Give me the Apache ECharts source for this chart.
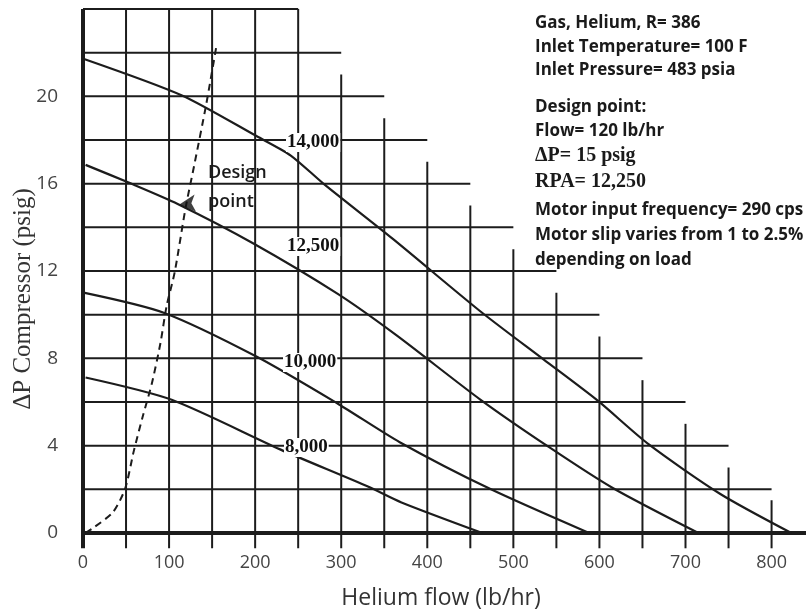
<!DOCTYPE html>
<html><head><meta charset="utf-8">
<script src="https://cdn.jsdelivr.net/npm/echarts@6/dist/echarts.min.js"></script>
<style>html,body{margin:0;padding:0;background:#fff}#c{width:809px;height:616px}</style>
</head><body><div id="c"></div>
<script>
// ---- data ----
const flow14000 = [2, 115, 202, 241, 280, 360, 463, 535, 598, 657, 740, 823];
const dp14000   = [21.7, 20.04, 18.17, 17.3, 15.98, 13.47, 10.11, 7.95, 6.06, 4.07, 1.8, 0];
const flow12500 = [3, 53, 110, 198, 296, 364, 462, 542, 616, 715];
const dp12500   = [16.86, 16.05, 15.07, 13.26, 10.95, 9.06, 6.1, 3.92, 2.05, 0];
const flow10000 = [2, 93, 202, 297, 368, 474, 588];
const dp10000   = [11.0, 10.1, 8.07, 5.9, 4.16, 2.0, 0];
const flow8000  = [3, 103, 229, 331, 370, 464];
const dp8000    = [7.12, 6.1, 3.83, 2.13, 1.4, 0];
const designLineFlow = [3, 12.5, 35, 49, 59, 69, 80, 90, 97, 106.5, 119, 129, 143, 155];
const designLineDP   = [0, 0.25, 0.96, 2.04, 3.75, 5.28, 6.85, 8.7, 10.37, 11.94, 14.85, 16.8, 19.6, 22.3];
const designFlow = [112];
const designDP   = [15.05];
// staircase grid: horizontal lines (dp value -> right end flow), vertical lines (flow -> top dp)
const hGridDP      = [2, 4, 6, 8, 10, 12, 14, 16, 18, 20, 22, 24];
const hGridEndFlow = [800, 750, 700, 650, 600, 550, 500, 450, 400, 350, 300, 250];
const vGridFlow    = [50, 100, 150, 200, 250, 300, 350, 400, 450, 500, 550, 600, 650, 700, 750, 800];
const vGridTopDP   = [24, 24, 24, 24, 24, 21, 19, 17, 15, 13, 11, 9, 7, 5, 3, 1.5];
const xTickLabels = [0, 100, 200, 300, 400, 500, 600, 700, 800];
const yTickLabels = [0, 4, 8, 12, 16, 20];
const curveNames = ['14,000', '12,500', '10,000', '8,000'];
const infoLines1 = ['Gas, Helium, R= 386', 'Inlet Temperature= 100 F', 'Inlet Pressure= 483 psia'];
const infoLines2 = ['Design point:', 'Flow= 120 lb/hr'];
const infoLines3 = ['\u0394P= 15 psig', 'RPA= 12,250'];
const infoLines4 = ['Motor input frequency= 290 cps', 'Motor slip varies from 1 to 2.5%', 'depending on load'];

// ---- build ----
const zip = (a, b) => a.map((v, i) => [v, b[i]]);
const TICKX = -20, TICKY = -0.7;
const INK = '#1c1c1c';
const series = [];
function seg(data, w, extra) {
  series.push(Object.assign({type: 'line', data, symbol: 'none', silent: true, clip: false,
    lineStyle: {color: INK, width: w}, z: 2}, extra || {}));
}
hGridDP.forEach((y, i) => seg([[y === 24 ? 0 : TICKX, y], [hGridEndFlow[i], y]], 2));
vGridFlow.forEach((x, i) => seg([[x, TICKY], [x, vGridTopDP[i]]], 2));
seg([[TICKX, 0], [840, 0]], 4, {z: 3});
seg([[0, TICKY], [0, 24]], 4, {z: 3});
[[flow14000, dp14000], [flow12500, dp12500], [flow10000, dp10000], [flow8000, dp8000]].forEach(([f, d]) =>
  seg(zip(f, d), 2.2, {smooth: 0.25, z: 4}));
seg(zip(designLineFlow, designLineDP), 2, {smooth: 0.25, z: 4,
  lineStyle: {color: INK, width: 2, type: [7, 5]}});
series.push({type: 'scatter', data: zip(designFlow, designDP), symbol: 'arrow', symbolRotate: 95,
  symbolSize: [13, 16], itemStyle: {color: '#111'}, z: 6, silent: true});

const infoX = 535;
const graphic = [];
function txt(x, y, s, font, lh) {
  graphic.push({type: 'text', left: x, top: y, z: 10,
    style: {text: s, font, fill: '#1a1a1a', lineHeight: lh}});
}
const sansB = 'bold 17px "Open Sans"';
infoLines1.forEach((s, i) => txt(infoX, 15 + i * 23.5, s, sansB));
infoLines2.forEach((s, i) => txt(infoX, 99 + i * 23.5, s, sansB));
infoLines3.forEach((s, i) => txt(infoX, 146 + i * 26, s, 'bold 20px "Liberation Serif"'));
infoLines4.forEach((s, i) => txt(infoX, 202 + i * 25, s, sansB));
// curve labels
const lblPos = [[286, 133], [286, 237], [283, 353], [284, 438]];
curveNames.forEach((s, i) => graphic.push({type: 'text', left: lblPos[i][0], top: lblPos[i][1], z: 10,
  style: {text: s, font: 'bold 19px "Liberation Serif"', fill: '#111', backgroundColor: '#fff', padding: [0, 1]}}));
txt(208, 158, 'Design\npoint', '600 18px "Open Sans"', 29);
// axis titles
graphic.push({type: 'text', x: 23, y: 299, rotation: Math.PI / 2, z: 10,
  style: {text: '\u0394P Compressor (psig)', font: '25px "Liberation Serif"', fill: '#333', align: 'center', verticalAlign: 'middle'}});
graphic.push({type: 'text', x: 441, y: 598, z: 10,
  style: {text: 'Helium flow (lb/hr)', font: '23px "Open Sans"', fill: '#333', align: 'center', verticalAlign: 'middle'}});

const chart = echarts.init(document.getElementById('c'));
chart.setOption({
  animation: false,
  grid: {left: 83, right: 0, top: 9, bottom: 83},
  xAxis: {type: 'value', min: 0, max: 840, interval: 100,
    axisLine: {show: false}, axisTick: {show: false}, splitLine: {show: false},
    axisLabel: {margin: 21, color: '#444', fontSize: 18, fontFamily: 'Open Sans',
      formatter: v => xTickLabels.includes(v) ? String(v) : ''}},
  yAxis: {type: 'value', min: 0, max: 24, interval: 4,
    axisLine: {show: false}, axisTick: {show: false}, splitLine: {show: false},
    axisLabel: {margin: 25, color: '#444', fontSize: 19, fontFamily: 'Open Sans',
      formatter: v => yTickLabels.includes(v) ? String(v) : ''}},
  series,
  graphic
});
</script></body></html>
